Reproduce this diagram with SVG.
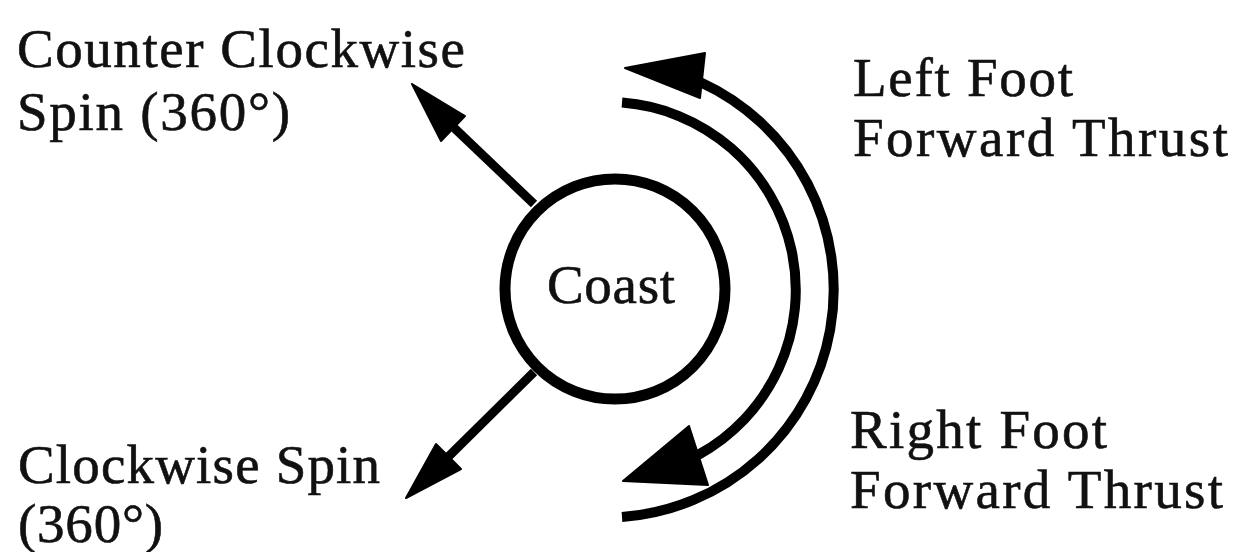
<svg xmlns="http://www.w3.org/2000/svg" width="1235" height="552" viewBox="0 0 1235 552">
  <style>
    text { font-family: "Liberation Serif", "Times New Roman", serif; font-size: 55px; fill: #111; stroke: #111; stroke-width: 0.6; }
    .stroke { fill: none; stroke: #000; }
    .head { fill: #000; stroke: #000; stroke-width: 2; stroke-linejoin: round; }
  </style>
  <rect width="1235" height="552" fill="#fff"/>
  <g id="coast">
    <circle cx="615" cy="289" r="110" class="stroke" stroke-width="11"/>
    <text x="547" y="303" textLength="128" lengthAdjust="spacing">Coast</text>
  </g>
  <g id="ccw-spin">
    <text x="17" y="67" textLength="448" lengthAdjust="spacing">Counter Clockwise</text>
    <text x="17" y="130" textLength="273" lengthAdjust="spacing">Spin (360°)</text>
  </g>
  <g id="cw-spin">
    <text x="18" y="483" textLength="362" lengthAdjust="spacing">Clockwise Spin</text>
    <text x="18" y="542" textLength="145" lengthAdjust="spacing">(360°)</text>
  </g>
  <g id="left-foot">
    <text x="853" y="96" textLength="220" lengthAdjust="spacing">Left Foot</text>
    <text x="853" y="156" textLength="375" lengthAdjust="spacing">Forward Thrust</text>
  </g>
  <g id="right-foot">
    <text x="850" y="448" textLength="257" lengthAdjust="spacing">Right Foot</text>
    <text x="850" y="508" textLength="373" lengthAdjust="spacing">Forward Thrust</text>
  </g>
  <g id="connectors">
    <line x1="534" y1="204" x2="448" y2="122" class="stroke" stroke-width="9"/>
    <polygon points="412,84 465,116 441,141" class="head"/>
    <line x1="534" y1="372" x2="445" y2="460" class="stroke" stroke-width="9"/>
    <polygon points="406,498 436,444 461,469" class="head"/>
    <path d="M 622 102.6 A 188 188 0 0 1 698 455" class="stroke" stroke-width="10"/>
    <polygon points="623,481 689,426 708,485" class="head"/>
    <path d="M 622 517 A 228 228 0 0 0 700 82" class="stroke" stroke-width="10"/>
    <polygon points="625,68 705,53 700,98" class="head"/>
  </g>
</svg>
